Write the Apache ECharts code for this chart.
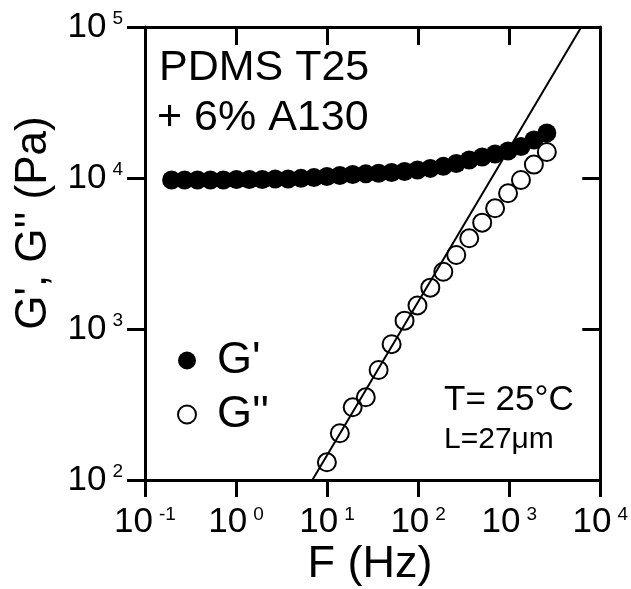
<!DOCTYPE html>
<html>
<head>
<meta charset="utf-8">
<script src="https://cdn.jsdelivr.net/npm/echarts@6/dist/echarts.min.js"></script>
<style>
  html, body { margin: 0; padding: 0; background: #fff; }
  #chart { width: 631px; height: 589px; }
</style>
</head>
<body>
<div id="chart"></div>
<script>
// frequency grid (Hz), same for both moduli
var freq = [0.196, 0.272, 0.377, 0.523, 0.726, 1.01, 1.40, 1.94, 2.69, 3.73,
            5.17, 7.17, 9.95, 13.8, 19.1, 26.6, 36.8, 51.1, 70.9, 98.3,
            136, 189, 262, 364, 505, 700, 971, 1346, 1867, 2590];
// G' (Pa), storage modulus
var gPrime = [9710, 9710, 9710, 9710, 9710, 9780, 9780, 9780, 9850, 9850,
              9945, 10060, 10230, 10400, 10560, 10650, 10740, 10880, 11050, 11300,
              11580, 11940, 12470, 13150, 13770, 14420, 15090, 16170, 17850, 19860];
// G'' (Pa), loss modulus, measured from ~10 Hz
var freqLoss = [9.95, 13.8, 19.1, 26.6, 36.8, 51.1, 70.9, 98.3, 136,
                189, 262, 364, 505, 700, 971, 1346, 1867, 2590];
var gSecond = [131, 204, 303, 353, 535, 793, 1135, 1432, 1879,
               2395, 3090, 3988, 5060, 6300, 7925, 9700, 12270, 14860];
// slope line endpoints (F, G)
var fitF = [6.89, 6194];
var fitG = [100, 100000];

var FONT = 'Arial, "Liberation Sans", sans-serif';

function pairs(xs, ys) {
    return xs.map(function (x, i) { return [x, ys[i]]; });
}

function expLabel(v) {
    var e = Math.round(Math.log(v) / Math.LN10);
    return '{b|10}{s|' + e + '}';
}

var labelRich = {
    b: { fontSize: 35, fontFamily: FONT, color: '#000', lineHeight: 35 },
    s: { fontSize: 19, fontFamily: FONT, color: '#000', lineHeight: 19,
         verticalAlign: 'top', padding: [0, 0, 0, 6] }
};

var lineSt = { color: '#000', width: 3 };

var dom = document.getElementById('chart');
var myChart = echarts.init(dom);

var option = {
    animation: false,
    backgroundColor: '#fff',
    grid: { left: 145, top: 27, width: 457, height: 453, containLabel: false },
    xAxis: [
        {
            type: 'log', logBase: 10, min: 0.1, max: 10000, position: 'bottom',
            axisLine: { lineStyle: lineSt },
            axisTick: { inside: false, length: 17, lineStyle: lineSt },
            minorTick: { show: false },
            splitLine: { show: false },
            axisLabel: { margin: 25, formatter: expLabel, rich: labelRich }
        },
        {
            type: 'log', logBase: 10, min: 0.1, max: 10000, position: 'top',
            axisLine: { lineStyle: lineSt },
            axisTick: { inside: true, length: 18, lineStyle: lineSt },
            splitLine: { show: false },
            axisLabel: { show: false }
        }
    ],
    yAxis: [
        {
            type: 'log', logBase: 10, min: 100, max: 100000, position: 'left',
            axisLine: { lineStyle: lineSt },
            axisTick: { inside: false, length: 18, lineStyle: lineSt },
            splitLine: { show: false },
            axisLabel: { margin: 22, formatter: expLabel, rich: labelRich }
        },
        {
            type: 'log', logBase: 10, min: 100, max: 100000, position: 'right',
            axisLine: { lineStyle: lineSt },
            axisTick: { inside: true, length: 18, lineStyle: lineSt },
            splitLine: { show: false },
            axisLabel: { show: false }
        }
    ],
    legend: {
        orient: 'vertical',
        left: 172, top: 333,
        itemWidth: 50, itemHeight: 18, itemGap: 9,
        textStyle: { fontSize: 45, fontFamily: FONT, color: '#000', lineHeight: 44 },
        data: [
            { name: "G'", icon: 'circle', itemStyle: { color: '#000', opacity: 1 } },
            { name: "G''", icon: 'circle',
              itemStyle: { color: '#fff', borderColor: '#000', borderWidth: 2, opacity: 1 } }
        ]
    },
    graphic: [
        { type: 'text', left: 159, top: 47,
          style: { text: 'PDMS T25', font: '43px ' + FONT, fill: '#000' } },
        { type: 'text', left: 157, top: 97,
          style: { text: '+ 6% A130', font: '43px ' + FONT, fill: '#000' } },
        { type: 'text', left: 444, top: 383,
          style: { text: 'T= 25°C', font: '35px ' + FONT, fill: '#000' } },
        { type: 'text', left: 444, top: 425,
          style: { text: 'L=27μm', font: '30px ' + FONT, fill: '#000' } },
        { type: 'text', x: 34, y: 223, rotation: Math.PI / 2,
          style: { text: "G', G'' (Pa)", font: '44px ' + FONT, fill: '#000',
                   align: 'center', verticalAlign: 'middle' } },
        { type: 'text', x: 370, y: 565,
          style: { text: 'F (Hz)', font: '45px ' + FONT, fill: '#000',
                   align: 'center', verticalAlign: 'middle' } }
    ],
    series: [
        {
            name: 'fit', type: 'line', xAxisIndex: 0, yAxisIndex: 0,
            data: pairs(fitF, fitG), symbol: 'none',
            lineStyle: { color: '#000', width: 2 }
        },
        {
            name: "G''", type: 'scatter', xAxisIndex: 0, yAxisIndex: 0,
            data: pairs(freqLoss, gSecond), symbol: 'circle', symbolSize: 18,
            itemStyle: { color: 'rgba(0,0,0,0)', borderColor: '#000', borderWidth: 2, opacity: 1 }
        },
        {
            name: "G'", type: 'scatter', xAxisIndex: 0, yAxisIndex: 0,
            data: pairs(freq, gPrime), symbol: 'circle', symbolSize: 19,
            itemStyle: { color: '#000', opacity: 1 }
        }
    ]
};

option && typeof option === 'object' && myChart.setOption(option, true);
</script>
</body>
</html>
